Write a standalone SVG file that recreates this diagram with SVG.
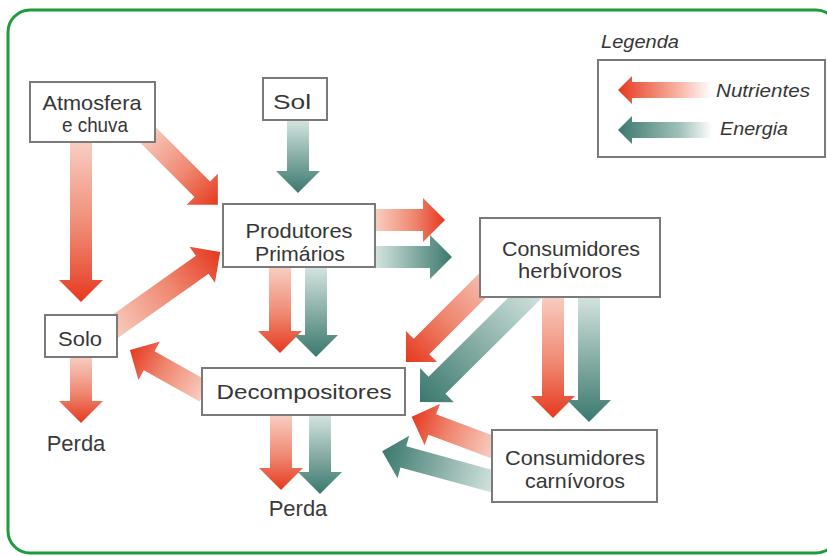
<svg xmlns="http://www.w3.org/2000/svg" width="827" height="556" viewBox="0 0 827 556">
<style>
.box{fill:#fff;stroke:#7a7a7a;stroke-width:2}
.t{font-family:"Liberation Sans",Arial,sans-serif;fill:#363636;text-anchor:middle;font-size:21px}
.p{font-family:"Liberation Sans",Arial,sans-serif;fill:#3a3a3a;text-anchor:middle;font-size:22px}
.lg{font-family:"Liberation Sans",Arial,sans-serif;font-style:italic;fill:#363636;font-size:19px}
.r{fill:url(#gr)}
.g{fill:url(#gg)}
</style>
<defs>
<linearGradient id="gr" x1="0" y1="0" x2="1" y2="0">
<stop offset="0" stop-color="#f8cdc1"/>
<stop offset="0.55" stop-color="#ef8770"/>
<stop offset="1" stop-color="#e5391f"/>
</linearGradient>
<linearGradient id="gg" x1="0" y1="0" x2="1" y2="0">
<stop offset="0" stop-color="#d3e3df"/>
<stop offset="0.55" stop-color="#7ea89f"/>
<stop offset="1" stop-color="#3a786e"/>
</linearGradient>
<linearGradient id="lr" x1="0" y1="0" x2="1" y2="0">
<stop offset="0" stop-color="#ffffff"/>
<stop offset="0.35" stop-color="#f7b6a5"/>
<stop offset="1" stop-color="#e5391f"/>
</linearGradient>
<linearGradient id="lg" x1="0" y1="0" x2="1" y2="0">
<stop offset="0" stop-color="#ffffff"/>
<stop offset="0.35" stop-color="#9fc0b9"/>
<stop offset="1" stop-color="#3a786e"/>
</linearGradient>
</defs>

<rect x="8" y="10" width="830" height="543" rx="22" fill="#fff" stroke="#1f9a3c" stroke-width="3"/>

<g id="connectors">
<path class="r" transform="translate(81,143) rotate(90)" d="M0,-11H137V-22L159,0L137,22V11H0Z"/>
<path class="r" transform="translate(145,132) rotate(45)" d="M0,-11H81V-22L103,0L81,22V11H0Z"/>
<path class="g" transform="translate(298,121) rotate(90)" d="M0,-11H50V-22L72,0L50,22V11H0Z"/>
<path class="r" transform="translate(110,330) rotate(-35.3)" d="M0,-11H113V-22L135,0L113,22V11H0Z"/>
<path class="r" transform="translate(376,220)" d="M0,-11H47V-22L69,0L47,22V11H0Z"/>
<path class="g" transform="translate(376,257)" d="M0,-11H54V-22L76,0L54,22V11H0Z"/>
<path class="r" transform="translate(280,268) rotate(90)" d="M0,-11H63V-22L85,0L63,22V11H0Z"/>
<path class="g" transform="translate(316,268) rotate(90)" d="M0,-11H67V-22L89,0L67,22V11H0Z"/>
<path class="r" transform="translate(205,392) rotate(-150.75)" d="M0,-11H64V-22L86,0L64,22V11H0Z"/>
<path class="r" transform="translate(281,416) rotate(90)" d="M0,-11H52V-22L74,0L52,22V11H0Z"/>
<path class="g" transform="translate(320,416) rotate(90)" d="M0,-11H56V-22L78,0L56,22V11H0Z"/>
<path class="r" transform="translate(81,357) rotate(90)" d="M0,-11H44V-22L66,0L44,22V11H0Z"/>
<path class="r" transform="translate(500,268) rotate(135)" d="M0,-11H111V-22L133,0L111,22V11H0Z"/>
<path class="g" transform="translate(535,288) rotate(135.25)" d="M0,-12H138V-24L162,0L138,24V12H0Z"/>
<path class="r" transform="translate(553,297) rotate(90)" d="M0,-11H99V-22L121,0L99,22V11H0Z"/>
<path class="g" transform="translate(589,297) rotate(90)" d="M0,-11H103V-22L125,0L103,22V11H0Z"/>
<path class="r" transform="translate(495,448) rotate(-159.5)" d="M0,-11H67V-22L89,0L67,22V11H0Z"/>
<path class="g" transform="translate(495,482) rotate(-164.7)" d="M0,-11H95V-22L117,0L95,22V11H0Z"/>
</g>

<g id="atmosfera">
<rect class="box" x="30" y="82" width="125" height="60"/>
<text class="t" x="92" y="110" textLength="99" lengthAdjust="spacingAndGlyphs">Atmosfera</text>
<text class="t" x="95" y="132" textLength="66" lengthAdjust="spacingAndGlyphs">e chuva</text>
</g>
<g id="sol">
<rect class="box" x="263" y="78" width="64" height="42"/>
<text class="t" x="292" y="109" font-size="22" textLength="38" lengthAdjust="spacingAndGlyphs">Sol</text>
</g>
<g id="produtores">
<rect class="box" x="223" y="204" width="152" height="63"/>
<text class="t" x="299" y="238" textLength="107" lengthAdjust="spacingAndGlyphs">Produtores</text>
<text class="t" x="300" y="261" textLength="90" lengthAdjust="spacingAndGlyphs">Primários</text>
</g>
<g id="herbivoros">
<rect class="box" x="480" y="218" width="180" height="79"/>
<text class="t" x="571" y="256" textLength="138" lengthAdjust="spacingAndGlyphs">Consumidores</text>
<text class="t" x="570" y="278" textLength="104" lengthAdjust="spacingAndGlyphs">herbívoros</text>
</g>
<g id="solo">
<rect class="box" x="45" y="315" width="72" height="42"/>
<text class="t" x="80" y="346" textLength="44" lengthAdjust="spacingAndGlyphs">Solo</text>
</g>
<g id="decompositores">
<rect class="box" x="202" y="368" width="203" height="47"/>
<text class="t" x="304" y="399" font-size="25" textLength="175" lengthAdjust="spacingAndGlyphs">Decompositores</text>
</g>
<g id="carnivoros">
<rect class="box" x="492" y="430" width="165" height="72"/>
<text class="t" x="575" y="465" textLength="140" lengthAdjust="spacingAndGlyphs">Consumidores</text>
<text class="t" x="575" y="488" textLength="100" lengthAdjust="spacingAndGlyphs">carnívoros</text>
</g>
<g id="perda1">
<text class="p" x="76" y="451">Perda</text>
</g>
<g id="perda2">
<text class="p" x="298" y="516">Perda</text>
</g>

<g id="legenda">
<text class="lg" x="601" y="48" textLength="78" lengthAdjust="spacingAndGlyphs">Legenda</text>
<rect class="box" x="598" y="60" width="227" height="97"/>
<path fill="url(#lr)" transform="translate(712,90) rotate(180)" d="M0,-8H80V-14L94,0L80,14V8H0Z"/>
<path fill="url(#lg)" transform="translate(712,130) rotate(180)" d="M0,-8H80V-14L94,0L80,14V8H0Z"/>
<text class="lg" x="716" y="97" textLength="94" lengthAdjust="spacingAndGlyphs">Nutrientes</text>
<text class="lg" x="720" y="135" textLength="68" lengthAdjust="spacingAndGlyphs">Energia</text>
</g>
</svg>
